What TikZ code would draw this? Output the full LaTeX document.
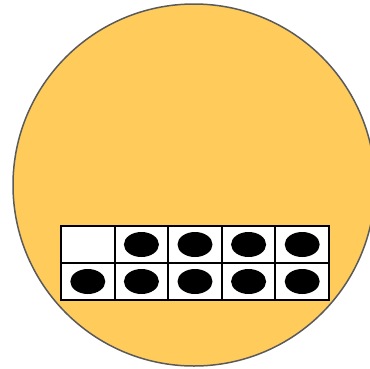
\documentclass[tikz,border=0pt]{standalone}
\usetikzlibrary{shapes.geometric}
\definecolor{sunfill}{RGB}{255,204,92}
\definecolor{rimgray}{RGB}{90,90,90}
\tikzset{
  disc/.style={circle, draw=rimgray, line width=1.5pt, fill=sunfill, minimum size=362pt, inner sep=0pt},
  cellbox/.style={rectangle, draw=black, line width=2pt, fill=white, minimum width=53.6pt, minimum height=37pt, inner sep=0pt},
  counter/.style={ellipse, fill=black, minimum width=35pt, minimum height=25pt, inner sep=0pt}
}
\begin{document}
\begin{tikzpicture}[x=1pt,y=-1pt]
\useasboundingbox (0,0) rectangle (370,368);
\node[disc] (sun) at (194,185) {};
\foreach \c in {0,...,4}{
  \foreach \r in {0,1}{
    \node[cellbox] (cell-\r-\c) at ({61+26.8+53.6*\c},{226+18.5+37*\r}) {};
  }
}
\foreach \c in {1,...,4}{
  \node[counter] (dot-0-\c) at (cell-0-\c) {};
}
\foreach \c in {0,...,4}{
  \node[counter] (dot-1-\c) at (cell-1-\c) {};
}
\end{tikzpicture}
\end{document}
